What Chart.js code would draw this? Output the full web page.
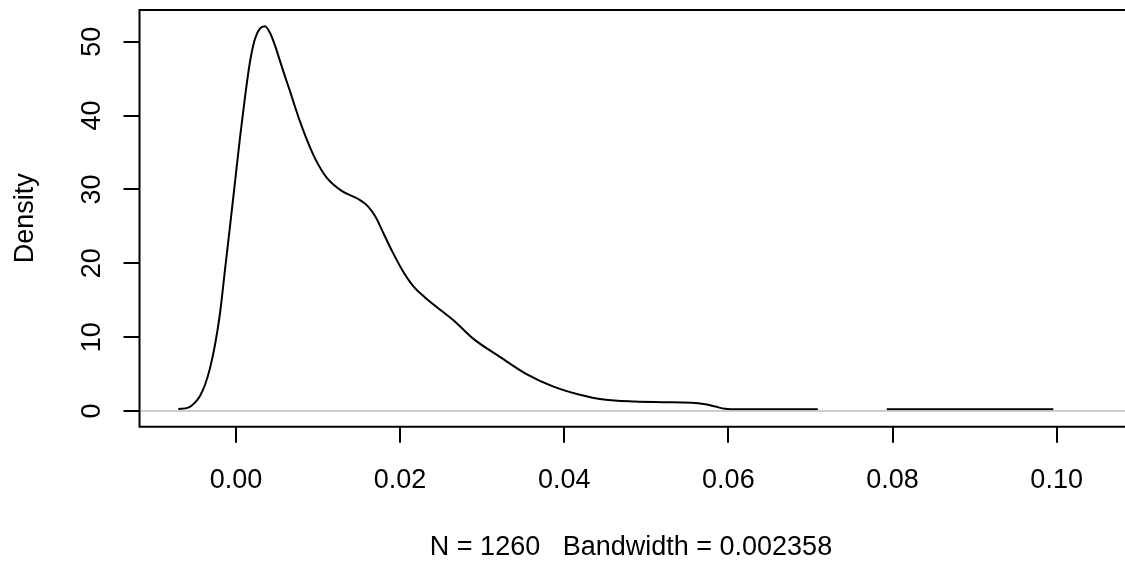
<!DOCTYPE html>
<html>
<head>
<meta charset="utf-8">
<title>Density</title>
<script src="https://cdn.jsdelivr.net/npm/chart.js@4.4.1/dist/chart.umd.min.js"></script>
<style>
  html, body { margin: 0; padding: 0; background: #fff; }
  #wrap { width: 1125px; height: 563px; position: relative; }
</style>
</head>
<body>
<div id="wrap"><canvas id="chart"></canvas></div>
<script>
// density estimate
var densityX = [-0.00703, -0.00581, -0.00500, -0.00439, -0.00378, -0.00317, -0.00256, -0.00195,
    -0.00134, -0.00073, -0.00012, 0.00049, 0.00110, 0.00171, 0.00232, 0.00293, 0.00353, 0.00414,
    0.00475, 0.00536, 0.00597, 0.00658, 0.00719, 0.0078, 0.00861, 0.00963, 0.01105, 0.01288,
    0.0149, 0.0160, 0.0170, 0.0180, 0.0190, 0.0202, 0.0216, 0.0230, 0.0250, 0.0265, 0.0289,
    0.0322, 0.0354, 0.0387, 0.0419, 0.0448, 0.0486, 0.0520, 0.0555, 0.0572, 0.0584, 0.0596,
    0.0610, 0.0709, 0.0750, 0.0793, 0.0996];
var densityY = [0.27, 0.45, 1.13, 2.03, 3.52, 5.77, 8.93, 13.2,
    19.1, 25.0, 31.0, 37.0, 42.5, 47.3, 50.4, 51.8, 52.1, 51.2,
    49.5, 47.4, 45.3, 43.3, 41.2, 39.2, 36.8, 34.2, 31.6, 29.8,
    28.7, 27.8, 26.3, 24.0, 21.7, 19.2, 16.9, 15.4, 13.6, 12.3, 9.8,
    7.3, 5.0, 3.3, 2.2, 1.55, 1.28, 1.2, 1.12, 0.9, 0.6, 0.3,
    0.22, 0.22, null, 0.22, 0.22];

var xTickValues = [0, 0.02, 0.04, 0.06, 0.08, 0.10];
var xTickLabels = ['0.00', '0.02', '0.04', '0.06', '0.08', '0.10'];
var yTickValues = [0, 10, 20, 30, 40, 50];
var yTickLabels = ['0', '10', '20', '30', '40', '50'];

var yTitle = 'Density';
var subTitle = 'N = 1260   Bandwidth = 0.002358';

var FONT = '27px "Liberation Sans", Arial, sans-serif';

var points = densityX.map(function(x, i) { return { x: x, y: densityY[i] }; });

// grey zero line, box and all texts (R style)
var rDecor = {
    id: 'rDecor',
    afterDatasetsDraw: function(chart) {
        var ctx = chart.ctx, a = chart.chartArea;
        var y0 = chart.scales.y.getPixelForValue(0);
        ctx.save();
        ctx.strokeStyle = '#bebebe';
        ctx.lineWidth = 1.6;
        ctx.beginPath();
        ctx.moveTo(a.left, y0);
        ctx.lineTo(a.right, y0);
        ctx.stroke();
        ctx.restore();
    },
    afterDraw: function(chart) {
        var ctx = chart.ctx, a = chart.chartArea;
        var xs = chart.scales.x, ys = chart.scales.y;
        ctx.save();
        // box (right side falls outside the picture)
        ctx.strokeStyle = '#000';
        ctx.lineWidth = 2;
        ctx.beginPath();
        ctx.moveTo(a.right + 5, a.top);
        ctx.lineTo(a.left, a.top);
        ctx.lineTo(a.left, a.bottom);
        ctx.lineTo(a.right + 5, a.bottom);
        ctx.stroke();

        ctx.fillStyle = '#000';
        ctx.font = FONT;
        ctx.textAlign = 'center';
        ctx.textBaseline = 'alphabetic';
        xTickValues.forEach(function(v, i) {
            ctx.fillText(xTickLabels[i], xs.getPixelForValue(v), 488);
        });
        ctx.fillText(subTitle, 631, 555);

        yTickValues.forEach(function(v, i) {
            ctx.save();
            ctx.translate(100, ys.getPixelForValue(v));
            ctx.rotate(-Math.PI / 2);
            ctx.fillText(yTickLabels[i], 0, 0);
            ctx.restore();
        });
        ctx.save();
        ctx.translate(33, (a.top + a.bottom) / 2);
        ctx.rotate(-Math.PI / 2);
        ctx.fillText(yTitle, 0, 0);
        ctx.restore();
        ctx.restore();
    }
};

new Chart(document.getElementById('chart'), {
    type: 'line',
    data: {
        datasets: [{
            data: points,
            borderColor: '#000',
            borderWidth: 2,
            pointRadius: 0,
            fill: false,
            spanGaps: false,
            cubicInterpolationMode: 'monotone'
        }]
    },
    options: {
        responsive: true,
        maintainAspectRatio: false,
        animation: false,
        layout: { padding: { left: 0, top: 10, right: 0, bottom: 0 } },
        plugins: {
            legend: { display: false },
            tooltip: { enabled: false }
        },
        scales: {
            x: {
                type: 'linear',
                min: -0.011756,
                max: 0.10833,
                border: { display: false },
                grid: { drawOnChartArea: false, drawTicks: true, tickLength: 16, color: '#000', lineWidth: 2 },
                ticks: { display: false },
                afterBuildTicks: function(s) { s.ticks = xTickValues.map(function(v) { return { value: v }; }); },
                afterFit: function(s) { s.height = 136.3; }
            },
            y: {
                min: -2.126,
                max: 54.29,
                border: { display: false },
                grid: { drawOnChartArea: false, drawTicks: true, tickLength: 16, color: '#000', lineWidth: 2 },
                ticks: { display: false },
                afterBuildTicks: function(s) { s.ticks = yTickValues.map(function(v) { return { value: v }; }); },
                afterFit: function(s) { s.width = 139.5; }
            }
        }
    },
    plugins: [rDecor]
});
</script>
</body>
</html>
